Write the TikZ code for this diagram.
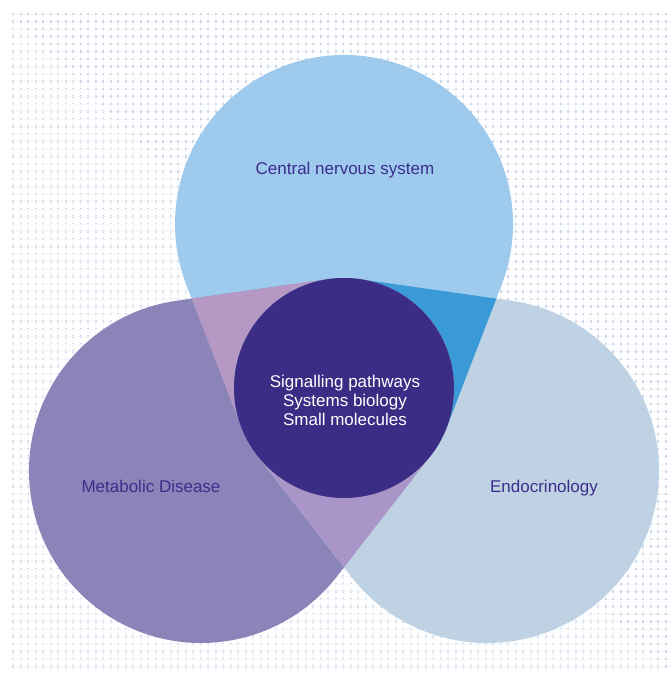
\documentclass[tikz,border=0pt]{standalone}
\usepackage{fontspec}
\setmainfont{Liberation Sans}
\definecolor{cnsblue}{RGB}{158,202,238}
\definecolor{endoblue}{RGB}{190,210,228}
\definecolor{metpurple}{RGB}{139,132,185}
\definecolor{pinkA}{RGB}{181,152,196}
\definecolor{pinkB}{RGB}{169,149,199}
\definecolor{brightblue}{RGB}{58,154,216}
\definecolor{darkcore}{RGB}{59,44,133}
\definecolor{labelcol}{RGB}{60,45,140}
\definecolor{dotcol}{RGB}{208,218,233}
\definecolor{linecol}{RGB}{243,246,251}
\begin{document}
\begin{tikzpicture}[x=1pt,y=1pt,
  gridline/.style={draw=linecol,line width=0.6pt},
  griddot/.style={draw=dotcol,line width=2pt,dash pattern=on 2.2pt off 5.3pt},
  label/.style={text=labelcol,font=\fontsize{17}{19}\selectfont,anchor=base,inner sep=0pt},
  coretext/.style={text=white,font=\fontsize{17}{19}\selectfont,align=center,inner sep=0pt}]
\useasboundingbox (0,0) rectangle (671,676);
\fill[white] (0,0) rectangle (671,676);
% dotted grid background
\foreach \i in {0,...,87} {
  \draw[gridline] ({13+\i*7.5},4) -- ({13+\i*7.5},662);
  \draw[gridline] (13,{662-\i*7.5}) -- (671,{662-\i*7.5});
  \draw[griddot] ({13+\i*7.5},663.1) -- ({13+\i*7.5},4);
}
% centres
\coordinate (O) at (344,288);
\coordinate (C1) at (344,452);
\coordinate (C2) at (201,205);
\coordinate (C3) at (487,205);
% hull paths (big circle + core circle)
\def\pathCNS{(C1) ++(-21.1:169) arc[start angle=-21.1, end angle=201.1, radius=169] -- ([shift={(201.1:110)}]O) arc[start angle=-158.9, end angle=-21.1, radius=110] -- cycle}
\def\pathMet{(C2) ++(98.1:172) arc[start angle=98.1, end angle=322.1, radius=172] -- ([shift={(-37.9:110)}]O) arc[start angle=-37.9, end angle=98.1, radius=110] -- cycle}
\def\pathEndo{(C3) ++(217.9:172) arc[start angle=217.9, end angle=441.9, radius=172] -- ([shift={(81.9:110)}]O) arc[start angle=81.9, end angle=217.9, radius=110] -- cycle}
\fill[cnsblue] \pathCNS;
\fill[metpurple] \pathMet;
\fill[endoblue] \pathEndo;
\begin{scope}
  \clip \pathCNS;
  \fill[pinkA] \pathMet;
  \fill[brightblue] \pathEndo;
\end{scope}
\begin{scope}
  \clip \pathMet;
  \fill[pinkB] \pathEndo;
\end{scope}
\fill[darkcore] (O) circle[radius=110];
% texts
\node[label] (cns) at (345,501) {Central nervous system};
\node[label] (met) at (151,183) {Metabolic Disease};
\node[label] (endo) at (544,183) {Endocrinology};
\node[coretext] (core) at (345,276) {Signalling pathways\\Systems biology\\Small molecules};
\end{tikzpicture}
\end{document}
